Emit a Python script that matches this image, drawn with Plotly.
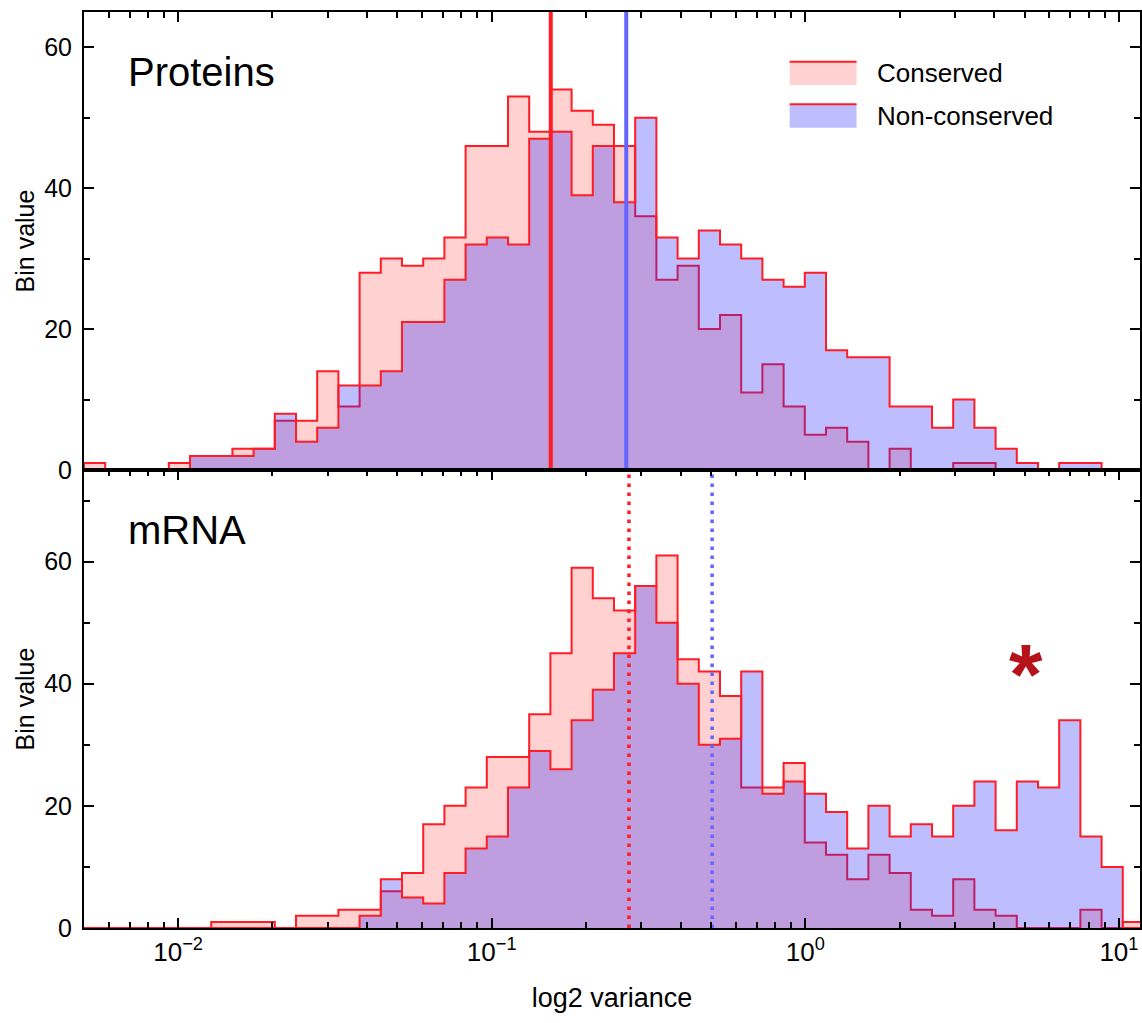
import numpy as np
import plotly.graph_objects as go

# ---------------- data ----------------
# histogram bins are uniform in log10 space
BIN_LOG10_START = -2.300
BIN_LOG10_WIDTH = 0.0676
N_BINS = 50

protein_conserved = [1, 0, 0, 0, 1, 2, 2, 3, 3, 7,
                     7, 14, 9, 28, 30, 29, 30, 33, 46, 46,
                     53, 48, 54, 51, 49, 46, 36, 27, 29, 20,
                     22, 11, 15, 9, 5, 6, 4, 0, 3, 0,
                     0, 1, 1, 0, 0, 0, 0, 0, 0, 0]
protein_nonconserved = [0, 0, 0, 0, 0, 2, 2, 2, 3, 8,
                        4, 6, 12, 12, 14, 21, 21, 27, 32, 33,
                        32, 47, 48, 39, 46, 38, 50, 33, 30, 34,
                        32, 30, 27, 26, 28, 17, 16, 16, 9, 9,
                        6, 10, 6, 3, 1, 0, 1, 1, 0, 0]
mrna_conserved = [0, 0, 0, 0, 0, 0, 1, 1, 1, 0,
                  2, 2, 3, 3, 6, 9, 17, 20, 23, 28,
                  28, 35, 45, 59, 54, 52, 56, 61, 44, 42,
                  38, 23, 23, 27, 14, 12, 8, 12, 9, 3,
                  2, 8, 3, 2, 0, 0, 0, 3, 0, 1]
mrna_nonconserved = [0, 0, 0, 0, 0, 0, 0, 0, 0, 0,
                     0, 0, 0, 2, 8, 5, 4, 9, 13, 15,
                     23, 29, 26, 34, 39, 45, 56, 50, 40, 30,
                     31, 42, 22, 24, 22, 19, 13, 20, 15, 17,
                     15, 20, 24, 16, 24, 23, 34, 15, 10, 0]

protein_mean_conserved = 0.1543
protein_mean_nonconserved = 0.2686
mrna_mean_conserved = 0.274
mrna_mean_nonconserved = 0.5045

series_names = ["Conserved", "Non-conserved"]
panel_names = ["Proteins", "mRNA"]
x_tick_vals = [0.01, 0.1, 1, 10]
x_tick_text = ["10<sup>−2</sup>", "10<sup>−1</sup>", "10<sup>0</sup>", "10<sup>1</sup>"]
y_tick_vals = [0, 20, 40, 60]
y_minor_vals = [10, 30, 50, 70]
x_title = "log2 variance"
y_title = "Bin value"

# ---------------- style ----------------
W, H = 1142, 1023
ML, MR, MT, MB = 84, 0, 12, 95
FONT = "Liberation Sans, Arial, Helvetica, sans-serif"
RED = "rgb(255,28,36)"
PINK = "rgba(255,0,0,0.18)"
BLUE_FILL = "rgba(40,40,255,0.30)"
BLUE_LINE = "rgb(100,100,255)"

PW = W - ML - MR
PH = H - MT - MB


def px_x(px):
    return (px - ML) / PW


def px_y(py):
    return (H - MB - py) / PH


edges = 10 ** (BIN_LOG10_START + BIN_LOG10_WIDTH * np.arange(N_BINS + 1))


def step_trace(counts, fill, xa, ya, name):
    xs = np.concatenate([[edges[0]], edges])
    ys = np.concatenate([[0], np.asarray(counts, float), [0]])
    return go.Scatter(x=xs, y=ys, mode="lines", line=dict(shape="hv", color=RED, width=2),
                      fill="tozeroy", fillcolor=fill, xaxis=xa, yaxis=ya,
                      name=name, showlegend=False, hoverinfo="skip")


fig = go.Figure()
fig.add_trace(step_trace(protein_conserved, PINK, "x", "y", series_names[0]))
fig.add_trace(step_trace(protein_nonconserved, BLUE_FILL, "x", "y", series_names[1]))
fig.add_trace(step_trace(mrna_conserved, PINK, "x2", "y2", series_names[0]))
fig.add_trace(step_trace(mrna_nonconserved, BLUE_FILL, "x2", "y2", series_names[1]))

YMAX_TOP, YMAX_BOT = 65, 75
fig.add_trace(go.Scatter(x=[protein_mean_conserved] * 2, y=[0, YMAX_TOP], mode="lines",
                         line=dict(color=RED, width=4), xaxis="x", yaxis="y", showlegend=False))
fig.add_trace(go.Scatter(x=[protein_mean_nonconserved] * 2, y=[0, YMAX_TOP], mode="lines",
                         line=dict(color=BLUE_LINE, width=4), xaxis="x", yaxis="y", showlegend=False))
fig.add_trace(go.Scatter(x=[mrna_mean_conserved] * 2, y=[0, YMAX_BOT], mode="lines",
                         line=dict(color=RED, width=3.5, dash="3.5px,5.5px"), xaxis="x2", yaxis="y2",
                         showlegend=False))
fig.add_trace(go.Scatter(x=[mrna_mean_nonconserved] * 2, y=[0, YMAX_BOT], mode="lines",
                         line=dict(color=BLUE_LINE, width=3.5, dash="3.5px,5.5px"), xaxis="x2", yaxis="y2",
                         showlegend=False))

minor_x = [m * 10.0 ** d for d in range(-3, 2) for m in range(2, 10)]
XR = [BIN_LOG10_START, BIN_LOG10_START + PW / 314.2]

common_x = dict(type="log", range=XR, showline=True, linecolor="black", linewidth=2,
                ticks="inside", ticklen=10, tickwidth=2, tickcolor="black",
                tickvals=x_tick_vals, showgrid=False, zeroline=False,
                minor=dict(tickvals=minor_x, ticks="inside", ticklen=6, tickwidth=1.5,
                           tickcolor="black", showgrid=False))
common_y = dict(showline=True, linecolor="black", linewidth=2, ticks="inside", ticklen=10,
                tickwidth=2, tickcolor="black", tickvals=y_tick_vals, mirror="ticks",
                showgrid=False, zeroline=False, ticklabelstandoff=5,
                tickfont=dict(family=FONT, size=25, color="black"),
                title=dict(text=y_title, font=dict(family=FONT, size=25, color="black"), standoff=2),
                minor=dict(tickvals=y_minor_vals, ticks="inside", ticklen=6, tickwidth=1.5,
                           tickcolor="black", showgrid=False))

fig.update_layout(
    width=W, height=H, margin=dict(l=ML, r=MR, t=MT, b=MB),
    paper_bgcolor="white", plot_bgcolor="white", showlegend=False,
    xaxis=dict(common_x, anchor="y", domain=[0, 1], side="top", mirror=True, showticklabels=False),
    yaxis=dict(common_y, anchor="x", domain=[0.5, 1], range=[0, YMAX_TOP]),
    xaxis2=dict(common_x, anchor="y2", domain=[0, 1], side="bottom", mirror="ticks",
                ticktext=x_tick_text, ticklabelstandoff=0,
                tickfont=dict(family=FONT, size=26, color="black"),
                title=dict(text=x_title, font=dict(family=FONT, size=27, color="black"), standoff=22)),
    yaxis2=dict(common_y, anchor="x2", domain=[0, 0.5], range=[0, YMAX_BOT]),
)

# panel labels
fig.add_annotation(x=px_x(126), y=px_y(72), xref="paper", yref="paper", text=panel_names[0],
                   showarrow=False, xanchor="left", yanchor="middle",
                   font=dict(family=FONT, size=40, color="black"))
fig.add_annotation(x=px_x(126), y=px_y(530), xref="paper", yref="paper", text=panel_names[1],
                   showarrow=False, xanchor="left", yanchor="middle",
                   font=dict(family=FONT, size=40, color="black"))
# asterisk
fig.add_annotation(x=px_x(1028), y=px_y(674), xref="paper", yref="paper", text="<b>*</b>",
                   showarrow=False, xanchor="center", yanchor="middle",
                   font=dict(family=FONT, size=86, color="#b5121b"))

# manual legend
for i, (fillc, y0, y1) in enumerate([(PINK, 61.7, 85.0), (BLUE_FILL, 104.3, 127.7)]):
    fig.add_shape(type="rect", xref="paper", yref="paper", x0=px_x(791), x1=px_x(858),
                  y0=px_y(y1), y1=px_y(y0), fillcolor=fillc, line=dict(width=0))
    fig.add_shape(type="line", xref="paper", yref="paper", x0=px_x(791), x1=px_x(858),
                  y0=px_y(y0), y1=px_y(y0), line=dict(color=RED, width=2))
    fig.add_annotation(x=px_x(876), y=px_y((y0 + y1) / 2), xref="paper", yref="paper",
                       text=series_names[i], showarrow=False, xanchor="left", yanchor="middle",
                       font=dict(family=FONT, size=26, color="black"))

fig.write_html("out.html")
